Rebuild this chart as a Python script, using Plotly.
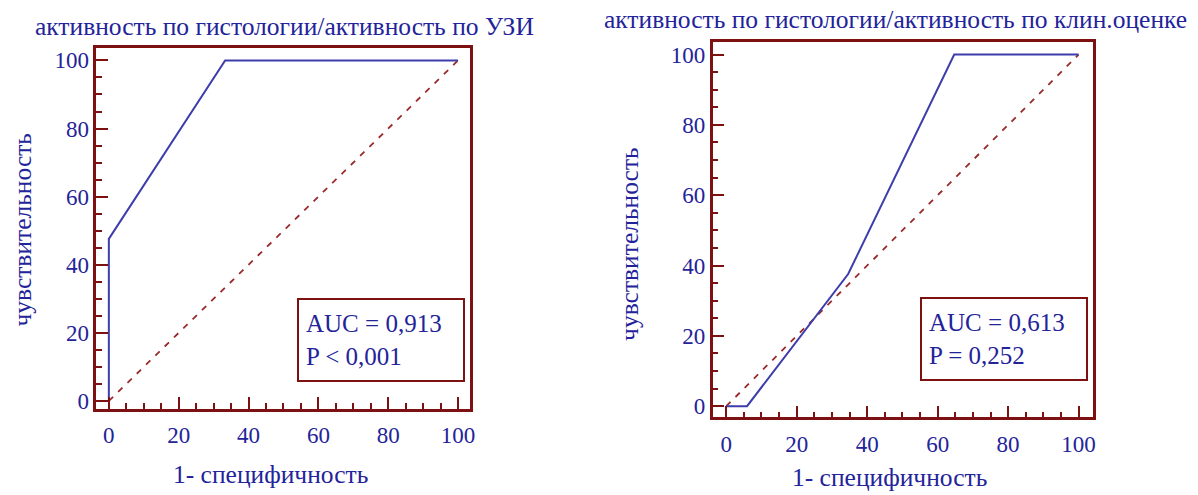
import plotly.graph_objects as go

# ROC curve: активность по гистологии / активность по УЗИ
uzi_fpr = [0, 0, 33.3, 100]
uzi_tpr = [0, 47.6, 100, 100]
uzi_auc = "0,913"
uzi_p = "P < 0,001"

# ROC curve: активность по гистологии / активность по клин.оценке
clin_fpr = [0, 5.9, 34.6, 64.7, 100]
clin_tpr = [0, 0, 37.6, 100, 100]
clin_auc = "0,613"
clin_p = "P = 0,252"

diag = [0, 100]
tick_vals = [0, 20, 40, 60, 80, 100]

titles = ["активность по гистологии/активность по УЗИ",
          "активность по гистологии/активность по клин.оценке"]
x_title = "1- специфичность"
y_title = "чувствительность"

FONT = "Liberation Serif"
TXT = "#23239a"
FRAME = "#7d1010"
CURVE = "#3d3dab"
DIAG = "#9a2a2a"

fig = go.Figure()

for i, (fx, fy) in enumerate([(uzi_fpr, uzi_tpr), (clin_fpr, clin_tpr)]):
    xa = "x" if i == 0 else "x2"
    ya = "y" if i == 0 else "y2"
    fig.add_trace(go.Scatter(x=diag, y=diag, mode="lines", xaxis=xa, yaxis=ya,
                             line=dict(color=DIAG, width=1.8, dash="6px,7px"),
                             showlegend=False, hoverinfo="skip"))
    fig.add_trace(go.Scatter(x=fx, y=fy, mode="lines", xaxis=xa, yaxis=ya,
                             line=dict(color=CURVE, width=2),
                             showlegend=False))

def axis_style(domain, rng):
    return dict(
        domain=domain, range=rng, showgrid=False, zeroline=False,
        showline=True, mirror=True, linecolor=FRAME, linewidth=2.5,
        tickmode="array", tickvals=tick_vals, ticks="inside",
        ticklen=12, tickwidth=2, tickcolor=FRAME,
        minor=dict(dtick=5, tick0=0, ticks="inside", ticklen=6,
                   tickwidth=2, tickcolor=FRAME),
        tickfont=dict(family=FONT, size=23, color=TXT),
        fixedrange=True,
    )

fig.update_layout(
    width=1198, height=495,
    margin=dict(l=0, r=0, t=0, b=0),
    paper_bgcolor="white", plot_bgcolor="white",
    xaxis=axis_style([0.0807, 0.3942], [-3.6, 103.5]),
    yaxis=axis_style([0.1657, 0.9024], [-2.3, 103.7]),
    xaxis2=dict(axis_style([0.5974, 0.9165], [-3.85, 104.2]), anchor="y2"),
    yaxis2=dict(axis_style([0.1481, 0.9137], [-3.2, 103.5]), anchor="x2"),
)
fig.layout.xaxis.anchor = "y"
fig.layout.yaxis.anchor = "x"
fig.layout.xaxis.ticklabelstandoff = 4
fig.layout.xaxis2.ticklabelstandoff = 4

ann = []
# chart titles
ann.append(dict(text=titles[0], x=286, y=27, xref="paper", yref="paper"))
ann.append(dict(text=titles[1], x=605, y=20, xref="paper", yref="paper", xanchor="left"))
# axis titles
ann.append(dict(text=x_title, x=272, y=479, xref="paper", yref="paper"))
ann.append(dict(text=x_title, x=893, y=482, xref="paper", yref="paper"))
ann.append(dict(text=y_title, x=23, y=232, xref="paper", yref="paper", textangle=-90))
ann.append(dict(text=y_title, x=632, y=246, xref="paper", yref="paper", textangle=-90))

annotations = []
for a in ann:
    px, py = a.pop("x"), a.pop("y")
    a.setdefault("xanchor", "center")
    annotations.append(dict(a, x=px / 1198, y=1 - py / 495, yanchor="middle",
                            showarrow=False,
                            font=dict(family=FONT, size=25.5, color=TXT)))

# AUC boxes inside each plot
for xa, ya, auc, p, cx, cy in [("x", "y", uzi_auc, uzi_p, 77.9, 18.0),
                               ("x2", "y2", clin_auc, clin_p, 78.8, 19.1)]:
    annotations.append(dict(
        text=f"AUC = {auc}<br>{p}", xref=xa, yref=ya, x=cx, y=cy,
        showarrow=False, align="left", width=150, height=66,
        bordercolor=FRAME, borderwidth=2, borderpad=7, bgcolor="white",
        font=dict(family=FONT, size=25, color=TXT),
    ))

fig.update_layout(annotations=annotations)
fig.write_html("out.html")
